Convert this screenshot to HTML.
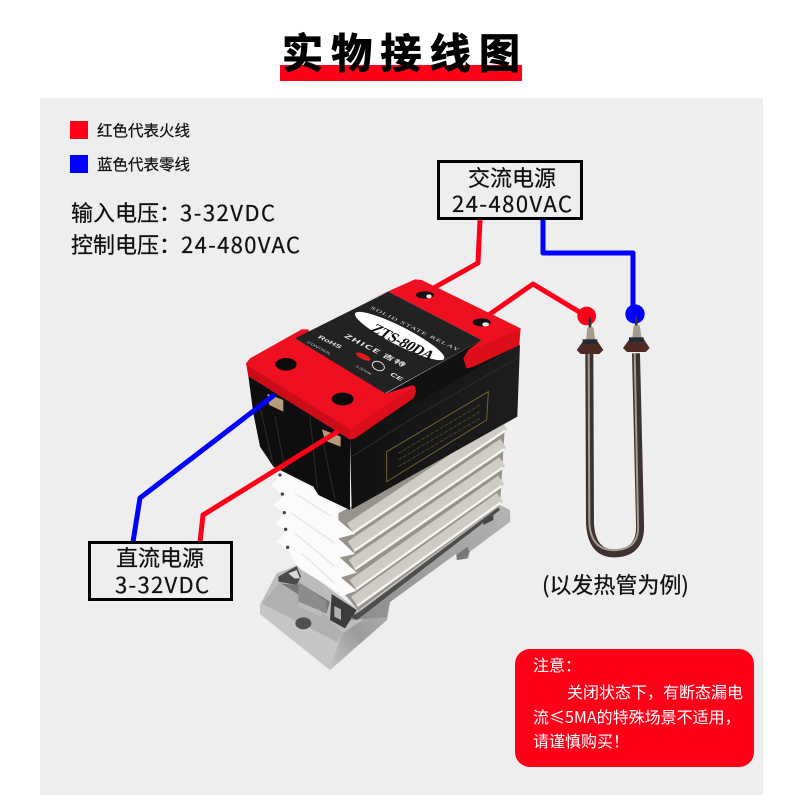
<!DOCTYPE html>
<html lang="zh"><head><meta charset="utf-8"><style>
html,body{margin:0;padding:0;background:#fff}
svg{display:block}
text{font-family:"Noto Sans CJK SC","Liberation Sans",sans-serif}
.t{stroke:#111;stroke-width:.25}
</style></head><body>
<svg width="800" height="800" viewBox="0 0 800 800" xmlns="http://www.w3.org/2000/svg">
<defs>
<linearGradient id="rf" x1="0" y1="0" x2="1" y2="0"><stop offset="0" stop-color="#111"/><stop offset="1" stop-color="#1d1d1d"/></linearGradient>
<linearGradient id="sl" x1="0" y1="1" x2="1" y2="0"><stop offset="0" stop-color="#c4c4c4"/><stop offset=".5" stop-color="#9c9c9c"/><stop offset="1" stop-color="#b0b0b0"/></linearGradient>
<linearGradient id="rail" x1="0" y1="1" x2="1" y2="0"><stop offset="0" stop-color="#8c8c8c"/><stop offset="1" stop-color="#b4b4b4"/></linearGradient>
</defs>
<rect width="800" height="800" fill="#fff"/>
<rect x="40" y="98" width="723" height="697" fill="#eeeeee"/>
<!-- title -->
<rect x="280" y="65" width="242" height="16" fill="#ff0019"/>
<text x="282" y="68" font-size="41" font-weight="700" fill="#000" stroke="#000" stroke-width="1" textLength="238" lengthAdjust="spacing">实物接线图</text>
<!-- legend -->
<rect x="70" y="121" width="18" height="18" fill="#ff0019"/>
<rect x="70" y="155" width="18" height="18" fill="#0000ff"/>
<text class="t" x="97" y="136" font-size="15.500" fill="#111">红色代表火线</text>
<text class="t" x="97" y="170" font-size="15.500" fill="#111">蓝色代表零线</text>
<text class="t" x="71" y="221" font-size="22" fill="#111">输入电压：</text>
<text class="t" x="180" y="221" font-size="22" fill="#111" textLength="95">3-32VDC</text>
<text class="t" x="71" y="253" font-size="22" fill="#111">控制电压：</text>
<text class="t" x="181" y="253" font-size="22" fill="#111" textLength="119">24-480VAC</text>
<!-- back wires -->
<g fill="none" stroke-width="5" stroke-linejoin="round" stroke-linecap="round">
<polyline points="480,220 478,263 430,290" stroke="#ff0019"/>
<polyline points="490,314 533,284 586,316" stroke="#ff0019"/>
<polyline points="543,220 543,253 633,253 633,314" stroke="#0000ff"/>
</g>
<!-- AC box -->
<rect x="438.500" y="161.500" width="143" height="57" fill="#eeeeee" stroke="#000" stroke-width="3"/>
<text class="t" x="512" y="186" font-size="22" fill="#111" text-anchor="middle">交流电源</text>
<text class="t" x="452" y="212" font-size="22" fill="#111" textLength="120">24-480VAC</text>
<!-- heater -->
<g transform="translate(560,290) scale(.3333)">
<path d="M88,190 L90,700 Q95,795 170,790 Q245,785 240,700 L228,190" fill="none" stroke="#3d3230" stroke-width="24"/>
<path d="M86,190 L88,700 Q94,785 170,780 Q240,775 234,700 L224,190" fill="none" stroke="#a89b94" stroke-width="6"/>
<circle cx="80" cy="78" r="28" fill="#ff0019"/>
<circle cx="225" cy="72" r="29" fill="#0000ff"/>
<g><rect x="86" y="82" width="8" height="32" fill="#333"/><polygon points="82,112 100,112 106,150 78,150" fill="#a59a8c"/><polygon points="50,180 72,150 110,150 130,180 118,192 62,192" fill="#4e2a24"/><rect x="68" y="148" width="44" height="14" fill="#222a33"/></g>
<g transform="translate(139,-6)"><rect x="86" y="86" width="8" height="32" fill="#333"/><polygon points="82,112 100,112 106,150 78,150" fill="#a59a8c"/><polygon points="50,180 72,150 110,150 130,180 118,192 62,192" fill="#4e2a24"/><rect x="68" y="148" width="44" height="14" fill="#222a33"/></g>
</g>
<!-- base (left part, coordinates of crop 255,470) -->
<g transform="translate(255,470) scale(.3333)">
<polygon points="15,405 65,310 130,285 310,420 405,396 396,450 225,600 15,432" fill="#bcbcbc"/>
<polygon points="15,405 15,432 225,600 250,520 30,395" fill="#c6c6c6"/>
<polygon points="225,600 262,490 405,396 396,450" fill="url(#sl)"/>
<polygon points="22,402 75,335 130,370 130,410 200,440 205,430 262,488 245,515" fill="#b0b0b0"/>
<polygon points="70,320 125,288 138,320 125,345 70,335" fill="#4a4a4a"/>
<polygon points="100,310 125,300 135,325 118,325" fill="#d8d8d8"/>
<polygon points="78,340 125,345 135,340 225,395 215,430 205,428 135,380 125,370" fill="#777"/>
<polygon points="130,335 215,395 215,430 130,395" fill="#8c8c8c"/>
<polygon points="230,372 305,420 270,475 225,450" fill="#3b3b3b"/>
<polygon points="238,408 258,418 258,450 238,440" fill="#b0b0b0"/>
<ellipse cx="145" cy="460" rx="24" ry="18" fill="#505050"/>
</g>
<!-- rail + fins (coordinates of crop 330,420) -->
<g transform="translate(330,420) scale(.3333)">
<polygon points="85,575 510,255 540,270 541,305 420,395 415,415 380,420 378,402 180,546 170,592 60,600" fill="url(#rail)"/>
<polygon points="60,590 90,575 505,262 510,270 100,585 80,600" fill="#4d4d4d"/>
<polygon points="460,300 490,285 490,300 460,315" fill="#444"/>
<polygon points="380,405 412,380 418,395 410,415 382,420" fill="#777"/>
<polygon points="25,280 525,15 510,255 85,572 25,500" fill="#98928c"/>
<g fill="none" stroke-linecap="butt">
<g stroke="#cfcbc5" stroke-width="32">
<line x1="60" y1="323" x2="522" y2="15"/><line x1="62" y1="378" x2="520" y2="70"/><line x1="65" y1="433" x2="517" y2="125"/><line x1="68" y1="493" x2="514" y2="180"/><line x1="72" y1="543" x2="510" y2="232"/>
</g>
<g stroke="#f6f5f2" stroke-width="7">
<line x1="70" y1="338" x2="525" y2="32"/><line x1="72" y1="393" x2="522" y2="88"/><line x1="75" y1="448" x2="518" y2="143"/><line x1="78" y1="508" x2="515" y2="198"/><line x1="82" y1="558" x2="512" y2="248"/>
</g>
</g>
</g>
<!-- white side of heat sink -->
<g transform="translate(255,470) scale(.3333)">
<polygon points="85,5 50,45 85,80 55,105 90,130 62,160 95,185 65,215 100,240 120,280 140,300 240,360 310,418 262,378 305,362 258,322 305,308 254,262 300,252 250,205 300,192 250,150 250,100" fill="#fbfbfb"/>
<g stroke="#e2e2e2" stroke-width="4" fill="none" opacity=".9"><path d="M120,70 L230,140 M110,130 L240,220 M120,190 L240,290 M140,250 L240,340"/></g>
<g fill="#444"><circle cx="75" cy="15" r="5"/><circle cx="82" cy="72" r="5"/><circle cx="88" cy="128" r="5"/><circle cx="92" cy="178" r="5"/><circle cx="98" cy="232" r="5"/></g>
</g>
<!-- relay -->
<g transform="translate(230,270) scale(.3333)">
<polygon points="55,318 360,508 360,720 265,675 250,650 130,590 90,530 70,430" fill="#0e0e0e"/>
<polygon points="360,508 870,225 862,440 365,718" fill="url(#rf)"/>
<polygon points="465,372 755,210 870,225 360,510" fill="#111"/>
<polyline points="365,560 555,440 866,262" fill="none" stroke="#2c2c2c" stroke-width="3"/>
<g stroke="#2d2d2d" stroke-width="3" fill="none"><line x1="92" y1="420" x2="130" y2="585"/><line x1="135" y1="440" x2="165" y2="600"/><line x1="240" y1="440" x2="262" y2="655"/><line x1="280" y1="520" x2="315" y2="690"/></g>
<polygon points="112,372 160,390 160,425 118,405" fill="#b59d7c"/>
<polygon points="276,478 332,500 332,530 285,512" fill="#b59d7c"/>
<polygon points="48,280 60,265 215,178 235,178 240,190 195,205 470,370 550,345 558,365 550,385 375,505 360,508 55,318" fill="#ee1020"/>
<polygon points="405,95 555,28 575,30 872,175 868,225 730,290 710,295 700,265 715,240 755,210 475,65" fill="#ee1020"/>
<polygon points="50,285 360,478 360,508 55,318" fill="#cc0c18"/>
<polygon points="360,478 555,348 558,365 550,385 375,505 360,508" fill="#dc0e1c"/>
<polygon points="715,245 868,178 868,225 730,290 710,295 700,265" fill="#dc0e1c"/>
<polygon points="195,205 475,65 755,210 465,370" fill="#222"/>
<ellipse cx="168" cy="283" rx="32" ry="19" fill="#0a0a0a"/>
<ellipse cx="338" cy="387" rx="33" ry="19" fill="#0a0a0a"/>
<ellipse cx="585" cy="75" rx="27" ry="11" fill="#111"/><ellipse cx="755" cy="157" rx="27" ry="12" fill="#111"/>
<ellipse cx="597" cy="79" rx="8" ry="6" fill="#eee"/><ellipse cx="767" cy="163" rx="10" ry="6" fill="#eee"/>
<ellipse cx="509" cy="198" rx="150" ry="28" transform="rotate(27 509 198)" fill="#fff"/>
<ellipse cx="400" cy="260" rx="24" ry="8" transform="rotate(25 400 260)" fill="#e21a1a"/>
<text transform="matrix(2.5,1.25,-2,2.1,418,182)" font-size="16" font-weight="700" fill="#111" style="font-family:'Liberation Serif',serif" textLength="72">ZTS-80DA</text>
<text transform="matrix(2.1,1.03,-1,.9,420,115)" font-size="11" fill="#ddd" style="font-family:'Liberation Serif',serif" textLength="125">SOLID STATE RELAY</text>
<text transform="matrix(1.9,.95,-1,.9,262,203)" font-size="13" font-weight="700" fill="#e4e4e4" style="font-family:'Liberation Sans',sans-serif">RoHS</text>
<text transform="matrix(2.4,1.22,-1.1,1,340,200)" font-size="13" font-weight="700" fill="#e8e8e8" textLength="75">ZHICE 吉特</text>
<text transform="matrix(1.6,.85,-.9,.75,230,218)" font-size="9" fill="#ccc" style="font-family:'Liberation Sans',sans-serif">CONTROL</text>
<text transform="matrix(1.4,.75,-.9,.7,375,290)" font-size="9" fill="#ccc" style="font-family:'Liberation Sans',sans-serif">3-32Vdc</text>
<text transform="matrix(1.8,.95,-1,.85,478,315)" font-size="14" font-weight="700" fill="#eee" style="font-family:'Liberation Sans',sans-serif">CE</text>
<ellipse cx="445" cy="288" rx="19" ry="13" transform="rotate(25 445 288)" fill="none" stroke="#ddd" stroke-width="3"/>
<polygon points="470,545 775,365 770,450 470,635" fill="none" stroke="#6f6232" stroke-width="3"/>
<g stroke="#4a432a" stroke-width="3" stroke-dasharray="12 4" fill="none"><line x1="505" y1="550" x2="750" y2="405"/><line x1="505" y1="570" x2="750" y2="425"/><line x1="505" y1="590" x2="750" y2="445"/></g>
</g>
<!-- DC wires -->
<g fill="none" stroke-width="5" stroke-linejoin="round" stroke-linecap="round">
<polyline points="133,542 140,498 273,396" stroke="#0000ff"/>
<polyline points="200,542 203,515 337,432" stroke="#ff0019"/>
</g>
<rect x="89.500" y="542.500" width="142" height="57" fill="#eeeeee" stroke="#000" stroke-width="3"/>
<text class="t" x="160" y="566" font-size="22" fill="#111" text-anchor="middle">直流电源</text>
<text class="t" x="115" y="593" font-size="22" fill="#111" textLength="94">3-32VDC</text>
<text class="t" x="542" y="593" font-size="22" fill="#111">(以发热管为例)</text>
<!-- note -->
<rect x="515" y="649" width="239" height="118" rx="15" fill="#ff0019"/>
<g font-size="16" fill="#fff">
<text x="533" y="671">注意：</text>
<text x="567" y="698">关闭状态下，有断态漏电</text>
<text x="533" y="723">流≤5MA的特殊场景不适用，</text>
<text x="533" y="747">请谨慎购买！</text>
</g>
</svg>
</body></html>
